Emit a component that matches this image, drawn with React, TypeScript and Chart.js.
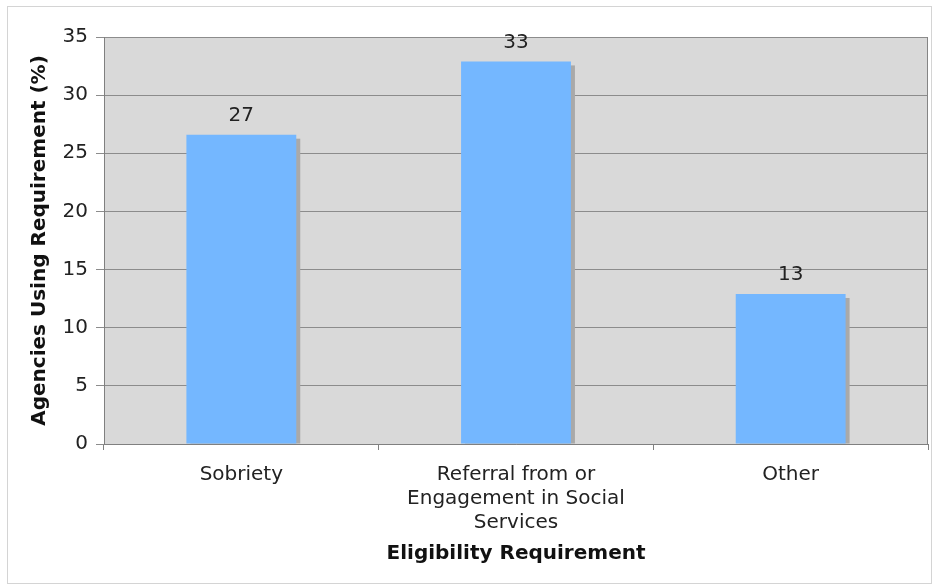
import React, { useEffect, useRef } from "react";
import { Chart, registerables } from "chart.js";

Chart.register(...registerables);

const categories: (string | string[])[] = [
  "Sobriety",
  ["Referral from or", "Engagement in Social", "Services"],
  "Other",
];
const values: number[] = [26.6, 32.9, 12.9];
const valueLabels: string[] = ["27", "33", "13"];
const yTicks: number[] = [0, 5, 10, 15, 20, 25, 30, 35];

const FONT = "'DejaVu Sans', Verdana, sans-serif";

const decorPlugin = {
  id: "decor",
  beforeDraw(chart: any) {
    const { ctx, chartArea } = chart;
    ctx.save();
    ctx.fillStyle = "#ffffff";
    ctx.fillRect(0, 0, chart.width, chart.height);
    ctx.strokeStyle = "#d4d4d4";
    ctx.lineWidth = 1;
    ctx.strokeRect(7.5, 6.5, 924, 577);
    ctx.fillStyle = "#d9d9d9";
    ctx.fillRect(chartArea.left, chartArea.top, chartArea.right - chartArea.left, chartArea.bottom - chartArea.top);
    ctx.restore();
  },
  beforeDatasetsDraw(chart: any) {
    const { ctx } = chart;
    const meta = chart.getDatasetMeta(0);
    ctx.save();
    ctx.fillStyle = "#a9a9a9";
    meta.data.forEach((bar: any) => {
      const w = bar.width;
      const x = bar.x - w / 2 + 4;
      const y = bar.y + 4;
      ctx.fillRect(x, y, w, bar.base - y);
    });
    ctx.restore();
  },
  afterDatasetsDraw(chart: any) {
    const { ctx, chartArea } = chart;
    const meta = chart.getDatasetMeta(0);
    ctx.save();
    ctx.fillStyle = "#222222";
    ctx.font = `20px ${FONT}`;
    ctx.textAlign = "center";
    ctx.textBaseline = "middle";
    meta.data.forEach((bar: any, i: number) => {
      ctx.fillText(valueLabels[i], bar.x, bar.y - 19);
    });
    ctx.strokeStyle = "#858585";
    ctx.lineWidth = 1;
    ctx.beginPath();
    ctx.moveTo(Math.round(chartArea.right) - 0.5, chartArea.top);
    ctx.lineTo(Math.round(chartArea.right) - 0.5, chartArea.bottom);
    ctx.stroke();
    ctx.restore();
  },
};

export default function App() {
  const ref = useRef<HTMLCanvasElement | null>(null);
  useEffect(() => {
    if (!ref.current) return;
    const chart = new Chart(ref.current, {
      type: "bar",
      data: {
        labels: categories,
        datasets: [
          {
            data: values,
            backgroundColor: "#74b7ff",
            borderWidth: 0,
            categoryPercentage: 0.4,
            barPercentage: 1,
          },
        ],
      },
      options: {
        animation: false,
        responsive: false,
        maintainAspectRatio: false,
        layout: { padding: { top: 37, right: 5, left: 0, bottom: 0 } },
        plugins: { legend: { display: false }, tooltip: { enabled: false } },
        scales: {
          x: {
            afterFit: (s: any) => {
              s.height = 142;
            },
            grid: {
              offset: true,
              drawOnChartArea: false,
              drawTicks: true,
              tickLength: 6,
              color: "#808080",
            },
            border: { display: true, color: "#808080" },
            ticks: {
              color: "#222222",
              font: { family: FONT, size: 20 },
              padding: 13,
              maxRotation: 0,
              autoSkip: false,
            },
            title: {
              display: true,
              text: "Eligibility Requirement",
              color: "#111111",
              font: { family: FONT, size: 20, weight: "bold" },
              padding: { top: 0, bottom: 20 },
            },
          },
          y: {
            min: 0,
            max: 35,
            afterFit: (s: any) => {
              s.width = 104;
            },
            afterBuildTicks: (s: any) => {
              s.ticks = yTicks.map((v) => ({ value: v }));
            },
            grid: {
              color: "#8c8c8c",
              drawTicks: true,
              tickLength: 8,
            },
            border: { display: true, color: "#808080" },
            ticks: {
              color: "#222222",
              font: { family: FONT, size: 20 },
              padding: 8,
            },
            title: {
              display: true,
              text: "Agencies Using Requirement (%)",
              color: "#111111",
              font: { family: FONT, size: 20, weight: "bold" },
              padding: { top: 28, bottom: 0 },
            },
          },
        },
      },
      plugins: [decorPlugin],
    });
    return () => chart.destroy();
  }, []);
  return (
    <div style={{ position: "absolute", left: 0, top: 0, width: 933, height: 586 }}>
      <canvas ref={ref} width={933} height={586} style={{ display: "block" }} />
    </div>
  );
}
